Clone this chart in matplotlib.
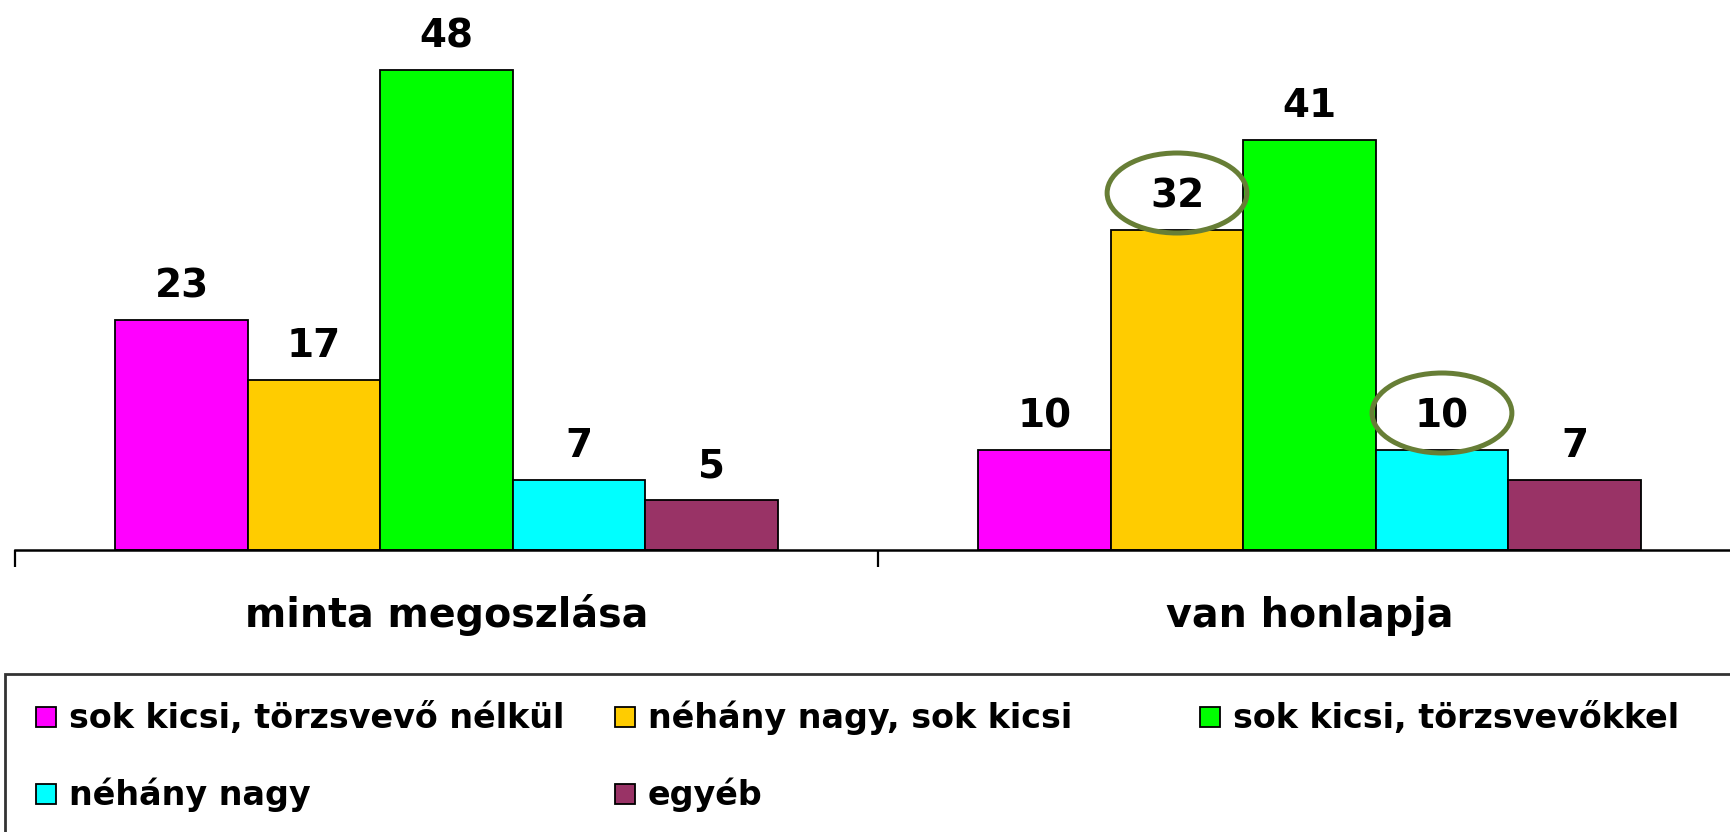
import matplotlib
matplotlib.use('Agg')
import numpy as np
import matplotlib.pyplot as plt
from matplotlib.patches import Ellipse, Rectangle
from matplotlib.transforms import blended_transform_factory

categories = ['minta megoszlása', 'van honlapja']
series = ['sok kicsi, törzsvevő nélkül', 'néhány nagy, sok kicsi',
          'sok kicsi, törzsvevőkkel', 'néhány nagy', 'egyéb']
values = [
    [23, 10],
    [17, 32],
    [48, 41],
    [7, 10],
    [5, 7],
]
colors = ['#FF00FF', '#FFCC00', '#00FF00', '#00FFFF', '#993366']
# (series index, category index) of the circled labels
circled = [(1, 1), (3, 1)]

plt.rcParams['font.family'] = ['DejaVu Sans']
plt.rcParams['font.weight'] = 'bold'

W, H = 1730, 832
fig = plt.figure(figsize=(W / 100, H / 100), dpi=100)
# axes run a bit past the right edge, like the cropped original
ax = fig.add_axes([15 / W, (H - 550) / H, (1741 - 15) / W, 550 / H])

x = np.arange(len(categories))
bw = 0.1535
for i, (name, vals) in enumerate(zip(series, values)):
    xs = x + (i - 2) * bw
    ax.bar(xs, vals, bw, color=colors[i], edgecolor='black', linewidth=1.3, label=name)
    for xi, v in zip(xs, vals):
        ax.text(xi, v + 2.3, str(v), ha='center', va='baseline', fontsize=28, fontweight='bold')

for s, c in circled:
    xc = x[c] + (s - 2) * bw
    ax.add_patch(Ellipse((xc, values[s][c] + 3.7), 0.162, 8.0, fill=False,
                         edgecolor='#677E36', linewidth=3.6, clip_on=False))

ax.set_xlim(-0.5, 1.5)
ax.set_ylim(0, 55)
for sp in ['left', 'right', 'top']:
    ax.spines[sp].set_visible(False)
ax.spines['bottom'].set_linewidth(1.8)
ax.set_yticks([])
ax.set_xticks([-0.5, 0.5, 1.5])
ax.set_xticklabels([])
ax.tick_params(axis='x', direction='out', length=12, width=1.6)

tr = blended_transform_factory(ax.transData, fig.transFigure)
for xi, cat in zip(x, categories):
    ax.text(xi, (H - 627) / H, cat, transform=tr, ha='center', va='baseline',
            fontsize=28.5, fontweight='bold', clip_on=False)

# legend box, cropped at right and bottom
fig.patches.append(Rectangle((5 / W, -0.1), 1.1, (H - 674) / H + 0.1, transform=fig.transFigure,
                             fill=False, edgecolor='#333333', linewidth=2.0))
col_x = [36, 615, 1200]
row_y = [717, 794]
for i, name in enumerate(series):
    r, c = divmod(i, 3)
    mx, my = col_x[c], row_y[r]
    fig.patches.append(Rectangle((mx / W, (H - my - 10) / H), 20 / W, 20 / H,
                                 transform=fig.transFigure, facecolor=colors[i],
                                 edgecolor='black', linewidth=1.3))
    fig.text((mx + 33) / W, (H - my - 11) / H, name, ha='left', va='baseline',
             fontsize=24, fontweight='bold')

fig.savefig('out.png', dpi=100)
